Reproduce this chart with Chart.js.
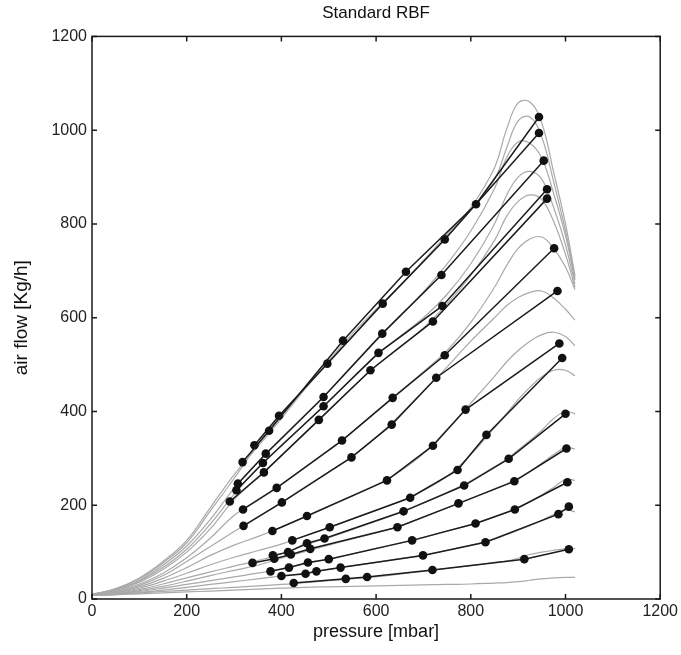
<!DOCTYPE html>
<html><head><meta charset="utf-8">
<script src="https://cdn.jsdelivr.net/npm/chart.js@4.4.1/dist/chart.umd.min.js"></script>
<style>html,body{margin:0;padding:0;background:#fff;}#wrap{width:681px;height:655px;}</style>
</head><body><div id="wrap"><canvas id="c" width="681" height="655"></canvas></div>
<script>
// ---- tick labels ----
const xTicks = [0, 200, 400, 600, 800, 1000, 1200];
const yTicks = [0, 200, 400, 600, 800, 1000, 1200];

// ---- gray RBF model curves (shared pressure grid) ----
const grayPressure = [0,50,100,150,200,250,300,350,400,450,500,550,600,650,700,750,800,850,875,900,925,950,975,1000,1020];
const gray1  = [10,22,45,80,125,195,265,325,385,448,508,566,618,668,722,778,835,920,1000,1058,1060,1015,910,800,690];
const gray2  = [10,21,43,77,120,188,257,330,393,450,505,560,615,668,720,773,830,895,960,1020,1028,985,890,785,685];
const gray3  = [10,20,40,72,113,170,236,292,341,391,443,498,552,603,655,715,785,875,940,975,972,940,865,775,680];
const gray4  = [10,19,38,67,106,160,223,279,328,374,421,472,520,560,600,650,715,800,860,900,912,895,835,755,672];
const gray5  = [10,18,36,63,100,150,212,259,306,354,402,451,497,538,578,630,690,765,815,848,862,852,805,735,665];
const gray6  = [9,16,32,55,88,130,178,211,244,281,318,357,400,442,485,530,590,665,710,748,768,772,748,708,660];
const gray7  = [9,15,29,50,80,112,144,175,205,238,271,304,345,392,443,495,550,600,625,643,654,657,642,618,595];
const gray8  = [9,14,26,44,67,93,115,133,153,175,198,220,243,272,310,362,418,475,505,530,550,564,569,560,540];
const gray9  = [8,13,23,38,55,73,89,103,117,135,152,171,189,208,232,262,308,365,395,425,452,474,488,488,476];
const gray10 = [8,12,20,32,45,58,70,82,96,115,131,148,166,184,205,227,252,282,298,318,338,360,385,400,395];
const gray11 = [8,11,18,27,38,50,61,72,87,101,115,128,141,156,175,194,214,235,245,258,272,290,308,323,320];
const gray12 = [8,11,16,23,31,39,47,55,64,75,85,96,108,119,131,145,158,175,184,196,208,222,238,255,253];
const gray13 = [8,10,14,19,25,31,37,43,49,55,63,71,78,86,94,104,115,128,137,147,157,168,180,190,186];
const gray14 = [8,10,13,16,19,22,25,28,31,35,39,43,47,53,59,65,71,78,81,87,95,100,104,107,108];
const gray15 = [8,9,11,13,15,17,19,21,23,25,26,27,28,29,30,31,32,34,35,37,40,43,45,46,46];

// ---- measured series (pressure [mbar], air flow [Kg/h]) ----
const run1P  = [318,374,530,663,811,944];          const run1F  = [292,359,551,698,842,1028];
const run2P  = [343,395,497,614,745,944];          const run2F  = [328,391,502,630,767,994];
const run3P  = [308,367,489,613,738,954];          const run3F  = [246,310,431,566,691,935];
const run4P  = [305,361,489,605,740,961];          const run4F  = [232,290,411,525,625,874];
const run5P  = [291,363,479,588,720,961];          const run5F  = [208,270,382,488,592,854];
const run6P  = [319,390,528,635,745,976];          const run6F  = [191,237,338,429,520,748];
const run7P  = [320,401,548,633,727,983];          const run7F  = [156,206,302,372,472,657];
const run8P  = [381,454,623,720,789,987];          const run8F  = [145,177,253,327,404,545];
const run9P  = [423,502,672,772,833,993];          const run9F  = [125,153,216,275,350,514];
const run10P = [382,414,454,491,658,786,880,1000]; const run10F = [93,100,119,129,187,242,299,395];
const run11P = [339,385,420,461,645,774,892,1002]; const run11F = [77,86,95,107,153,204,251,321];
const run12P = [377,416,456,500,676,810,893,1004]; const run12F = [59,67,78,85,125,161,191,249];
const run13P = [400,451,474,525,699,831,985,1007]; const run13F = [49,54,59,67,93,121,181,197];
const run14P = [426,536,581,719,913,1007];         const run14F = [34,43,47,62,85,106];

const grayCurves = [gray1,gray2,gray3,gray4,gray5,gray6,gray7,gray8,gray9,gray10,gray11,gray12,gray13,gray14,gray15];
const runs = [[run1P,run1F],[run2P,run2F],[run3P,run3F],[run4P,run4F],[run5P,run5F],[run6P,run6F],[run7P,run7F],
              [run8P,run8F],[run9P,run9F],[run10P,run10F],[run11P,run11F],[run12P,run12F],[run13P,run13F],[run14P,run14F]];

const FONT = "'Liberation Sans', Arial, Helvetica, sans-serif";
const pts = (xs, ys) => xs.map((v, i) => ({x: v, y: ys[i]}));

const datasets = [];
grayCurves.forEach(g => datasets.push({
  data: pts(grayPressure, g), showLine: true, pointRadius: 0, borderColor: '#a9a9a9',
  borderWidth: 1.2, tension: 0.4, order: 2
}));
runs.forEach(r => datasets.push({
  data: pts(r[0], r[1]), showLine: true, pointRadius: 4.3, pointHoverRadius: 4.3,
  pointBackgroundColor: '#111', pointBorderWidth: 0, borderColor: '#1c1c1c',
  borderWidth: 1.5, tension: 0, order: 1
}));

const framePlugin = {
  id: 'frame',
  afterDatasetsDraw(chart) {
    const {ctx, chartArea: a, scales: {x, y}} = chart;
    ctx.save();
    ctx.strokeStyle = '#1a1a1a';
    ctx.lineWidth = 1.5;
    ctx.strokeRect(a.left, a.top, a.right - a.left, a.bottom - a.top);
    const L = 5;
    ctx.beginPath();
    xTicks.forEach(v => {
      const p = x.getPixelForValue(v);
      ctx.moveTo(p, a.bottom); ctx.lineTo(p, a.bottom - L);
      ctx.moveTo(p, a.top); ctx.lineTo(p, a.top + L);
    });
    yTicks.forEach(v => {
      const p = y.getPixelForValue(v);
      ctx.moveTo(a.left, p); ctx.lineTo(a.left + L, p);
      ctx.moveTo(a.right, p); ctx.lineTo(a.right - L, p);
    });
    ctx.stroke();
    ctx.restore();
  }
};

new Chart(document.getElementById('c'), {
  type: 'scatter',
  data: {datasets},
  plugins: [framePlugin],
  options: {
    responsive: false, animation: false, devicePixelRatio: 1,
    layout: {padding: {left: 0, right: 19, top: 0, bottom: 0}},
    plugins: {
      legend: {display: false}, tooltip: {enabled: false},
      title: {display: true, text: 'Standard RBF', fullSize: false, color: '#111',
              font: {family: FONT, size: 17, weight: 'normal'}, padding: {top: 3, bottom: 13}}
    },
    scales: {
      x: {
        type: 'linear', min: 0, max: 1200,
        afterBuildTicks: s => { s.ticks = xTicks.map(v => ({value: v})); },
        afterFit: s => { s.height = 56; },
        grid: {display: false, drawTicks: false}, border: {display: false},
        ticks: {font: {family: FONT, size: 16}, color: '#222', padding: 3, maxRotation: 0, autoSkip: false,
                callback: v => String(v)},
        title: {display: true, text: 'pressure [mbar]', color: '#111',
                font: {family: FONT, size: 18}, padding: {top: 0, bottom: 12}}
      },
      y: {
        type: 'linear', min: 0, max: 1200,
        afterBuildTicks: s => { s.ticks = yTicks.map(v => ({value: v})); },
        afterFit: s => { s.width = 92; },
        grid: {display: false, drawTicks: false}, border: {display: false},
        ticks: {font: {family: FONT, size: 16}, color: '#222', padding: 5, autoSkip: false,
                callback: v => String(v)},
        title: {display: true, text: 'air flow [Kg/h]', color: '#111',
                font: {family: FONT, size: 19}, padding: {top: 10, bottom: 0}}
      }
    }
  }
});
</script></body></html>
